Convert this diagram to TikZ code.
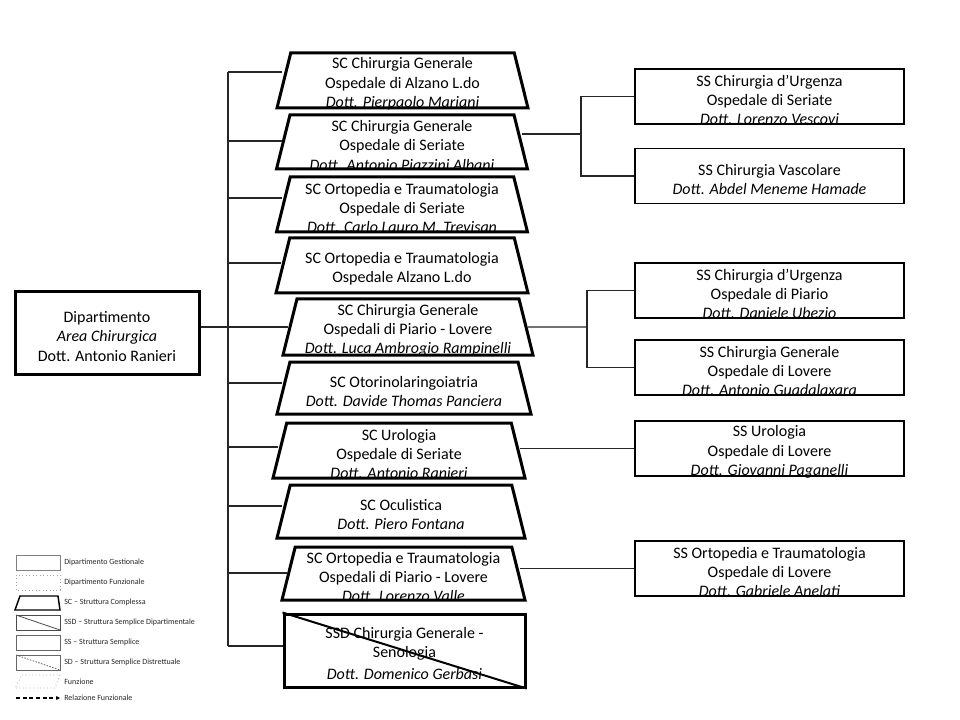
\documentclass[tikz,border=0pt]{standalone}
\usepackage{fontspec}
\setmainfont{Carlito}
\usetikzlibrary{shapes.geometric,arrows.meta}
\newcommand\tzh[1]{\rule{0pt}{#1}}
\begin{document}
\begin{tikzpicture}[x=0.75pt,y=-0.75pt,
  txt/.style={font=\fontsize{12}{14.4}\selectfont, align=center},
  lower/.style={yshift=-2.5pt},
  tz/.style 2 args={trapezium, trapezium left angle=76, trapezium right angle=76,
    trapezium stretches body, draw, line width=2.25pt, inner sep=1pt,
    minimum width=#1*0.75pt, minimum height=#2*0.75pt},
  ssbox/.style={draw, line width=0.9pt, minimum width=269*0.75pt,
    minimum height=55*0.75pt, inner sep=1pt},
  conn/.style={line width=0.8pt, black!85},
  legtxt/.style={font=\fontsize{6}{7}\selectfont, anchor=west, inner sep=0pt, black!85},
]
\useasboundingbox (0,0) rectangle (960,720);

% department
\node[draw, line width=2.25pt, minimum width=184*0.75pt, minimum height=82*0.75pt, inner sep=1pt]
  (dep) at (107,333) {};
\node[txt, lower] (dept) at (dep.center) {Dipartimento\\\textit{Area Chirurgica}\\Dott. Antonio Ranieri};

% SC boxes (shape + label)
\node[tz={251}{55}] (b1) at (402.5,80.5) {\tzh{39.25pt}};
\node[txt, lower] (b1t) at (b1.center) {SC Chirurgia Generale\\Ospedale di Alzano L.do\\\textit{Dott. Pierpaolo Mariani}};
\node[tz={251}{54}] (b2) at (402,142) {\tzh{38.5pt}};
\node[txt, lower] (b2t) at (b2.center) {SC Chirurgia Generale\\Ospedale di Seriate\\\textit{Dott. Antonio Piazzini Albani}};
\node[tz={251}{55}] (b3) at (402,204.5) {\tzh{39.25pt}};
\node[txt, lower] (b3t) at (b3.center) {SC Ortopedia e Traumatologia\\Ospedale di Seriate\\\textit{Dott. Carlo Lauro M. Trevisan}};
\node[tz={252}{55}] (b4) at (402,265.5) {\tzh{39.25pt}};
\node[txt, lower] (b4t) at (b4.center) {SC Ortopedia e Traumatologia\\Ospedale Alzano L.do};
\node[tz={250}{56}] (b5) at (408,327) {\tzh{40pt}};
\node[txt, lower] (b5t) at (b5.center) {SC Chirurgia Generale\\Ospedali di Piario - Lovere\\\textit{Dott. Luca Ambrogio Rampinelli}};
\node[tz={254}{52}] (b6) at (404,388) {\tzh{37pt}};
\node[txt, lower] (b6t) at (b6.center) {SC Otorinolaringoiatria\\\textit{Dott. Davide Thomas Panciera}};
\node[tz={252}{55}] (b7) at (399,450.5) {\tzh{39.25pt}};
\node[txt, lower] (b7t) at (b7.center) {SC Urologia\\Ospedale di Seriate\\\textit{Dott. Antonio Ranieri}};
\node[tz={248}{53}] (b8) at (401,511.5) {\tzh{37.75pt}};
\node[txt, lower] (b8t) at (b8.center) {SC Oculistica\\\textit{Dott. Piero Fontana}};
\node[tz={243}{53}] (b9) at (403.5,573.5) {\tzh{37.75pt}};
\node[txt, lower] (b9t) at (b9.center) {SC Ortopedia e Traumatologia\\Ospedali di Piario - Lovere\\\textit{Dott. Lorenzo Valle}};
\node[draw, line width=2.25pt, minimum width=241*0.75pt, minimum height=73*0.75pt, inner sep=1pt]
  (b10) at (404.5,650.5) {};
\node[txt, lower] (b10t) at (b10.center) {SSD Chirurgia Generale -\\Senologia\\[2pt]\textit{Dott. Domenico Gerbasi}};
\draw[line width=1.5pt] (b10.north west) -- (b10.south east);

% SS boxes
\node[ssbox] (s1) at (769.5,96.5) {};
\node[txt, lower] (s1t) at (s1.center) {SS Chirurgia d’Urgenza\\Ospedale di Seriate\\\textit{Dott. Lorenzo Vescovi}};
\node[ssbox] (s2) at (769.5,176) {};
\node[txt, lower] (s2t) at (s2.center) {SS Chirurgia Vascolare\\\textit{Dott. Abdel Meneme Hamade}};
\node[ssbox] (s3) at (769.5,290.5) {};
\node[txt, lower] (s3t) at (s3.center) {SS Chirurgia d’Urgenza\\Ospedale di Piario\\\textit{Dott. Daniele Ubezio}};
\node[ssbox] (s4) at (769.5,367.5) {};
\node[txt, lower] (s4t) at (s4.center) {SS Chirurgia Generale\\Ospedale di Lovere\\\textit{Dott. Antonio Guadalaxara}};
\node[ssbox] (s5) at (769.5,448.5) {};
\node[txt, lower] (s5t) at (s5.center) {SS Urologia\\Ospedale di Lovere\\\textit{Dott. Giovanni Paganelli}};
\node[ssbox] (s6) at (769.5,568.5) {};
\node[txt, lower] (s6t) at (s6.center) {SS Ortopedia e Traumatologia\\Ospedale di Lovere\\\textit{Dott. Gabriele Anelati}};

% spine
\coordinate (t1) at (228,72);
\coordinate (t2) at (228,141);
\coordinate (t3) at (228,198);
\coordinate (t4) at (228,263);
\coordinate (t6) at (228,383);
\coordinate (t7) at (228,447);
\coordinate (t8) at (228,506);
\coordinate (t9) at (228,573);
\coordinate (t10) at (228,646);
\draw[conn] (t1) -- (t10);
\foreach \i in {1,2,3,4,6,7,8,9,10} {\draw[conn] (t\i) -- (t\i -| b\i.west);}
\draw[conn] (dep.east |- b5.west) -- (b5.west);

% right connectors
\coordinate (r2) at (581,134);
\draw[conn] (r2 -| b2.east) -- (r2);
\draw[conn] (s1.west) -| (r2) |- (s2.west);
\coordinate (r5) at (587,327);
\draw[conn] (b5.east) -- (r5);
\draw[conn] (s3.west) -| (r5) |- (s4.west);
\draw[conn] (b7.east |- s5.west) -- (s5.west);
\draw[conn] (b9.east |- s6.west) -- (s6.west);

% legend
\draw[black!50, line width=0.6pt] (16,555) rectangle (60,570);
\node[legtxt] (l1) at (64,562.5) {Dipartimento Gestionale};
\draw[black!35, line width=0.6pt, dotted] (16,575) rectangle (60,590);
\node[legtxt] (l2) at (64,582) {Dipartimento Funzionale};
\draw[line width=1.1pt] (20,596) -- (58,596) -- (60,610) -- (15,610) -- cycle;
\node[legtxt] (l3) at (64,602) {SC – Struttura Complessa};
\draw[black!70, line width=0.6pt] (16,615) rectangle (60,630);
\draw[black!70, line width=0.6pt] (16,615) -- (60,630);
\node[legtxt] (l4) at (64,622) {SSD – Struttura Semplice Dipartimentale};
\draw[black!60, line width=0.6pt] (16,635) rectangle (60,650);
\node[legtxt] (l5) at (64,642) {SS – Struttura Semplice};
\draw[black!60, line width=0.6pt] (16,655) rectangle (60,670);
\draw[black!60, line width=0.6pt, dash pattern=on 1.2pt off 1pt] (16,655) -- (60,670);
\node[legtxt] (l6) at (64,662) {SD – Struttura Semplice Distrettuale};
\draw[black!35, line width=0.6pt, dotted] (22,675) -- (60,675) -- (55,688) -- (15,688) -- cycle;
\node[legtxt] (l7) at (64,682) {Funzione};
\coordinate (la) at (16,698);
\coordinate (lb) at (60,698);
\draw[line width=1.1pt, dash pattern=on 3pt off 2pt, -{Stealth[length=3pt,width=3pt]}] (la) -- (lb);
\node[legtxt] (l8) at (64,698) {Relazione Funzionale};
\end{tikzpicture}
\end{document}
